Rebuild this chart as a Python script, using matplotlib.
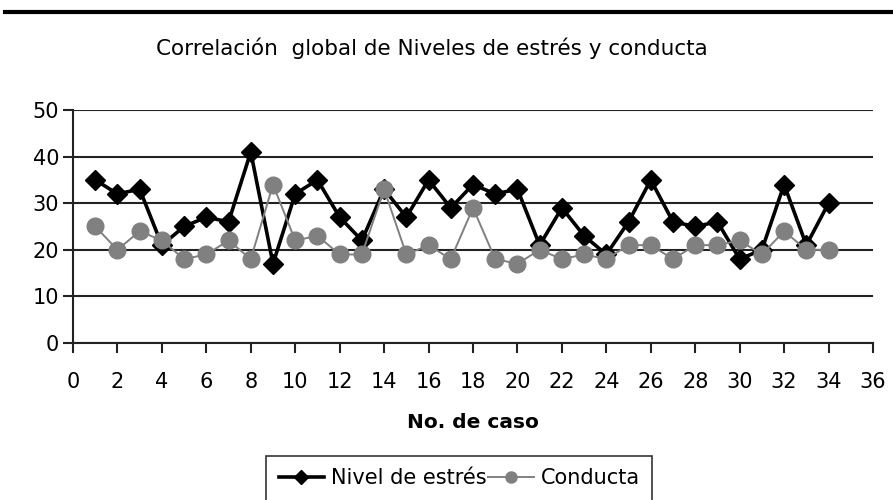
import matplotlib
matplotlib.use("Agg")
import matplotlib.pyplot as plt
from matplotlib.lines import Line2D

casos = list(range(1, 35))
nivel_estres = [35, 32, 33, 21, 25, 27, 26, 41, 17, 32, 35, 27, 22, 33, 27, 35, 29, 34,
                32, 33, 21, 29, 23, 19, 26, 35, 26, 25, 26, 18, 20, 34, 21, 30]
conducta = [25, 20, 24, 22, 18, 19, 22, 18, 34, 22, 23, 19, 19, 33, 19, 21, 18, 29,
            18, 17, 20, 18, 19, 18, 21, 21, 18, 21, 21, 22, 19, 24, 20, 20]
x_ticks = list(range(0, 37, 2))
y_ticks = list(range(0, 51, 10))

title = "Correlación  global de Niveles de estrés y conducta"
xlabel = "No. de caso"
labels = ["Nivel de estrés", "Conducta"]

plt.rcParams['font.family'] = ['DejaVu Sans']

fig = plt.figure(figsize=(8.93, 5.0), dpi=100)
ax = fig.add_axes([73/893, 1-343/500, 800/893, 233/500])

ax.plot(casos, nivel_estres, color='black', lw=2.6, marker='D', ms=10,
        mfc='black', mec='black', zorder=3, label=labels[0])
ax.plot(casos, conducta, color='#808080', lw=1.4, marker='o', ms=12,
        mfc='#808080', mec='#808080', zorder=4, label=labels[1])

ax.set_xlim(0, 36)
ax.set_ylim(0, 50)
ax.set_xticks(x_ticks)
ax.set_yticks(y_ticks)
ax.yaxis.grid(True, color='#222222', lw=1.5)
ax.set_axisbelow(True)
for s in ['top', 'right']:
    ax.spines[s].set_visible(False)
for s in ['left', 'bottom']:
    ax.spines[s].set_color('#222222')
    ax.spines[s].set_linewidth(1.5)
ax.tick_params(axis='both', labelsize=15, width=1.5, length=7, color='#222222')
ax.tick_params(axis='x', pad=14)
ax.tick_params(axis='y', pad=3)
ax.set_xlabel(xlabel, fontsize=14.5, fontweight='bold', labelpad=15)

fig.text(0.484, 1-48/500, title, ha='center', va='center', fontsize=15.5)

# top rule
fig.add_artist(Line2D([5/893, 1.0], [1-12/500, 1-12/500], color='black', lw=3,
                      transform=fig.transFigure))

h = [Line2D([], [], color='black', lw=2.6, marker='D', ms=7),
     Line2D([], [], color='#808080', lw=1.4, marker='o', ms=8)]
leg = fig.legend(h, labels, loc='upper center', bbox_to_anchor=(459/893, 1-456/500),
                 ncol=2, fontsize=15, frameon=True, fancybox=False,
                 edgecolor='black', handlelength=2.2, handletextpad=0.3,
                 columnspacing=0.1, borderpad=0.6, borderaxespad=0)
leg.get_frame().set_linewidth(1.2)

fig.savefig("out.png", dpi=100)
